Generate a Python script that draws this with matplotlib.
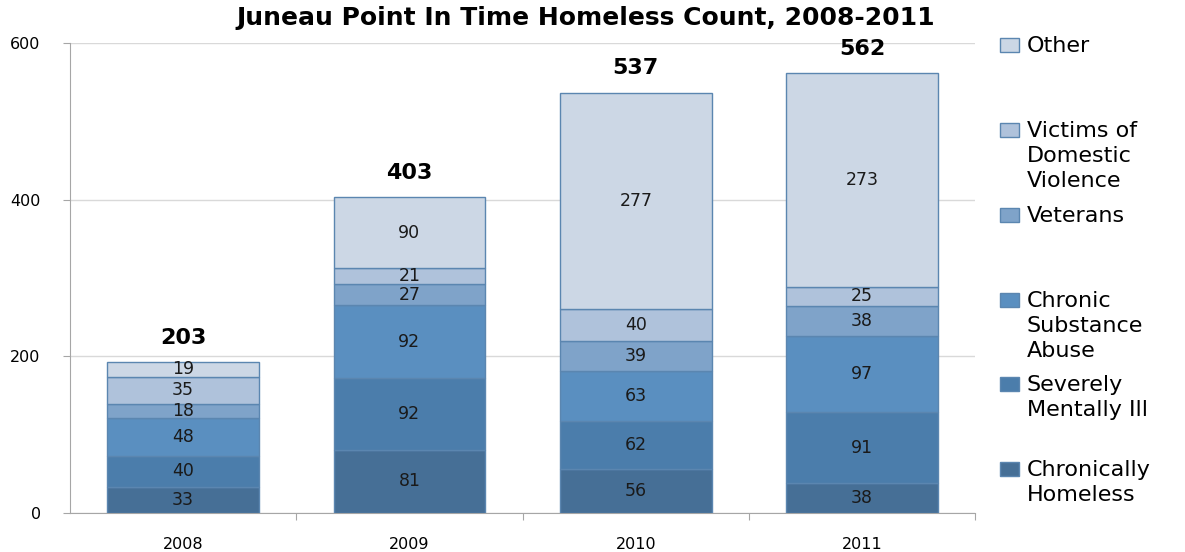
import matplotlib.pyplot as plt
import numpy as np
from matplotlib.patches import Rectangle

years = ["2008", "2009", "2010", "2011"]
categories = ["Chronically Homeless", "Severely Mentally Ill", "Chronic Substance Abuse",
              "Veterans", "Victims of Domestic Violence", "Other"]
legend_labels = ["Chronically\nHomeless", "Severely\nMentally Ill", "Chronic\nSubstance\nAbuse",
                 "Veterans", "Victims of\nDomestic\nViolence", "Other"]
chronically_homeless = [33, 81, 56, 38]
severely_mentally_ill = [40, 92, 62, 91]
chronic_substance_abuse = [48, 92, 63, 97]
veterans = [18, 27, 39, 38]
domestic_violence = [35, 21, 40, 25]
other = [19, 90, 277, 273]
totals = [203, 403, 537, 562]  # totals as printed above the bars

series = [chronically_homeless, severely_mentally_ill, chronic_substance_abuse,
          veterans, domestic_violence, other]
colors = ["#466f96", "#4b7dab", "#5a8fc0", "#7fa3c9", "#afc2db", "#ccd7e5"]

fig = plt.figure(figsize=(11.85, 5.52), dpi=100)
ax = fig.add_axes([0.059, 0.0707, 0.764, 0.851])

x = np.arange(len(years))
bottom = np.zeros(len(years))
for vals, col in zip(series, colors):
    ax.bar(x, vals, width=0.67, bottom=bottom, color=col,
           edgecolor="#5b86b0", linewidth=1.0, zorder=3)
    for xi, b, v in zip(x, bottom, vals):
        ax.text(xi, b + v / 2, str(v), ha="center", va="center",
                fontsize=12.5, color="#1a1a1a", zorder=4)
    bottom += np.array(vals)

for xi, top, t in zip(x, bottom, totals):
    ax.text(xi, top + 31, str(t), ha="center", va="center",
            fontsize=16, fontweight="bold", color="black")

ax.set_xlim(-0.5, 3.5)
ax.set_ylim(0, 600)
ax.set_yticks([0, 200, 400, 600])
ax.yaxis.grid(True, color="#d9d9d9", linewidth=1, zorder=0)
ax.set_xticks([0.5, 1.5, 2.5, 3.5])
ax.set_xticklabels([])
ax.set_xticks(x, minor=True)
ax.set_xticklabels(years, minor=True)
ax.tick_params(axis="x", which="minor", length=0, pad=17, labelsize=11.5)
ax.tick_params(axis="x", which="major", length=5, color="#a6a6a6")
ax.tick_params(axis="y", length=5, color="#a6a6a6", labelsize=11.5, pad=16)
for s in ["top", "right"]:
    ax.spines[s].set_visible(False)
for s in ["left", "bottom"]:
    ax.spines[s].set_color("#a6a6a6")

fig.text(0.494, 0.967, "Juneau Point In Time Homeless Count, 2008-2011",
         ha="center", va="center", fontsize=18, fontweight="bold")

# legend drawn by hand, top-aligned entries
leg_y = [469, 384, 300, 215, 130, 45]
for lab, col, py in zip(legend_labels, colors, leg_y):
    yf = 1 - py / 552
    fig.patches.append(Rectangle((1000 / 1185, yf - 7 / 552), 19 / 1185, 14 / 552,
                                 transform=fig.transFigure, facecolor=col,
                                 edgecolor="#5b86b0", linewidth=1))
    fig.text(1027 / 1185, yf + 9 / 552, lab, ha="left", va="top",
             fontsize=16, linespacing=1.32)

fig.savefig("out.png", dpi=100)
